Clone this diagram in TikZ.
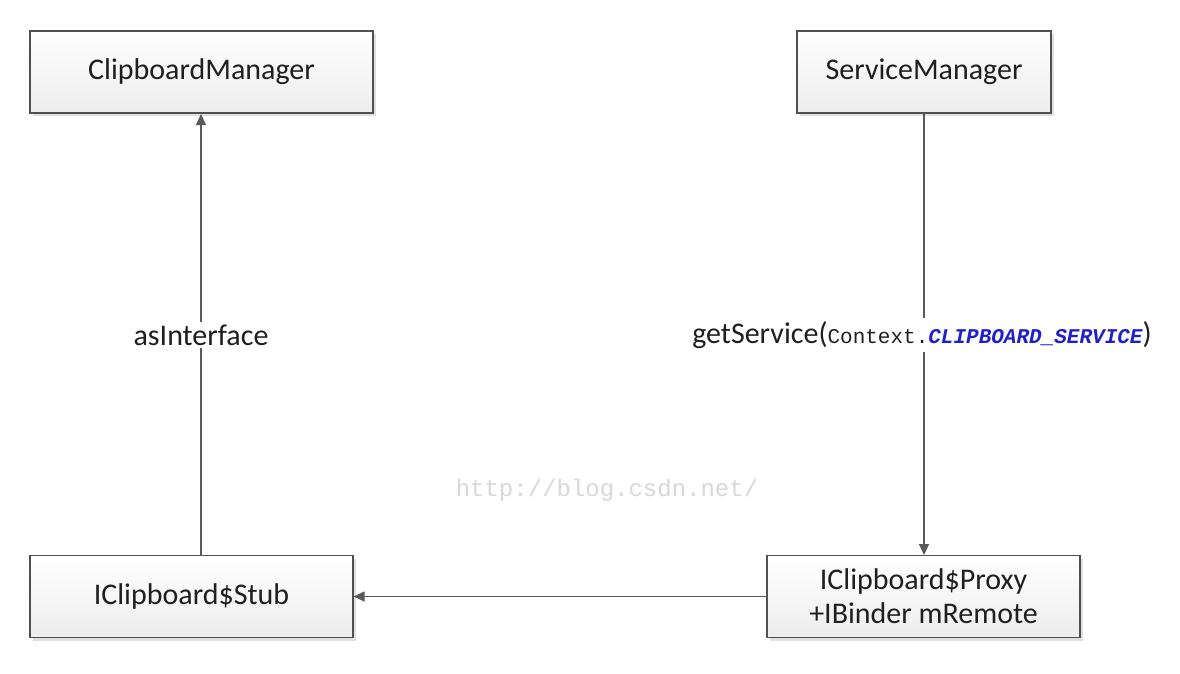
\documentclass[tikz,border=0pt]{standalone}
\usepackage{fontspec}
\setmainfont{Carlito}
\newfontfamily\codefont{Liberation Mono}
\usetikzlibrary{arrows.meta,shadows}
\definecolor{edgegray}{HTML}{595959}
\definecolor{boxline}{HTML}{505050}
\definecolor{kwblue}{HTML}{2020C8}
\definecolor{wmgray}{HTML}{D8D8D8}
\tikzset{
  classbox/.style={draw=boxline, line width=1.2pt, top color=white, bottom color=black!7,
    minimum height=82pt, align=center, inner sep=2pt,
    font=\fontsize{30}{34}\selectfont, text=black!88,
    drop shadow={shadow xshift=3pt, shadow yshift=-3pt, fill=black!12, opacity=1}},
  conn/.style={draw=edgegray, line width=1.2pt, -{Triangle[length=11pt,width=10pt]}},
  lbl/.style={fill=white, inner sep=3pt, font=\fontsize{30}{34}\selectfont, text=black!88},
}
\begin{document}
\begin{tikzpicture}[x=1pt,y=-1pt]
\useasboundingbox (0,0) rectangle (1180,673);
\fill[white] (0,0) rectangle (1180,673);
\node[classbox, minimum width=343pt] (cm) at (201.5,72) {ClipboardManager};
\node[classbox, minimum width=254pt] (sm) at (924,72) {ServiceManager};
\node[classbox, minimum width=323pt] (stub) at (191.5,596.5) {IClipboard\$Stub};
\node[classbox, minimum width=313pt] (proxy) at (923.5,596.5) {IClipboard\$Proxy\\+IBinder mRemote};
\coordinate (cmb) at (201,114);
\coordinate (stubt) at (201,556);
\coordinate (smb) at (924,114);
\coordinate (proxyt) at (924,555);
\draw[conn] (stubt) -- (cmb);
\draw[conn] (smb) -- (proxyt);
\draw[conn] (proxy.west) -- (stub.east);
\node[lbl] (asi) at (201,335) {asInterface};
\node[lbl] (gs) at (922,335) {getService({\codefont\fontsize{21}{24}\selectfont Context.\textcolor{kwblue}{\bfseries\itshape CLIPBOARD\_SERVICE}})};
\node[font=\codefont\fontsize{24}{26}\selectfont, text=wmgray] (wm) at (607,490) {http://blog.csdn.net/};
\end{tikzpicture}
\end{document}
